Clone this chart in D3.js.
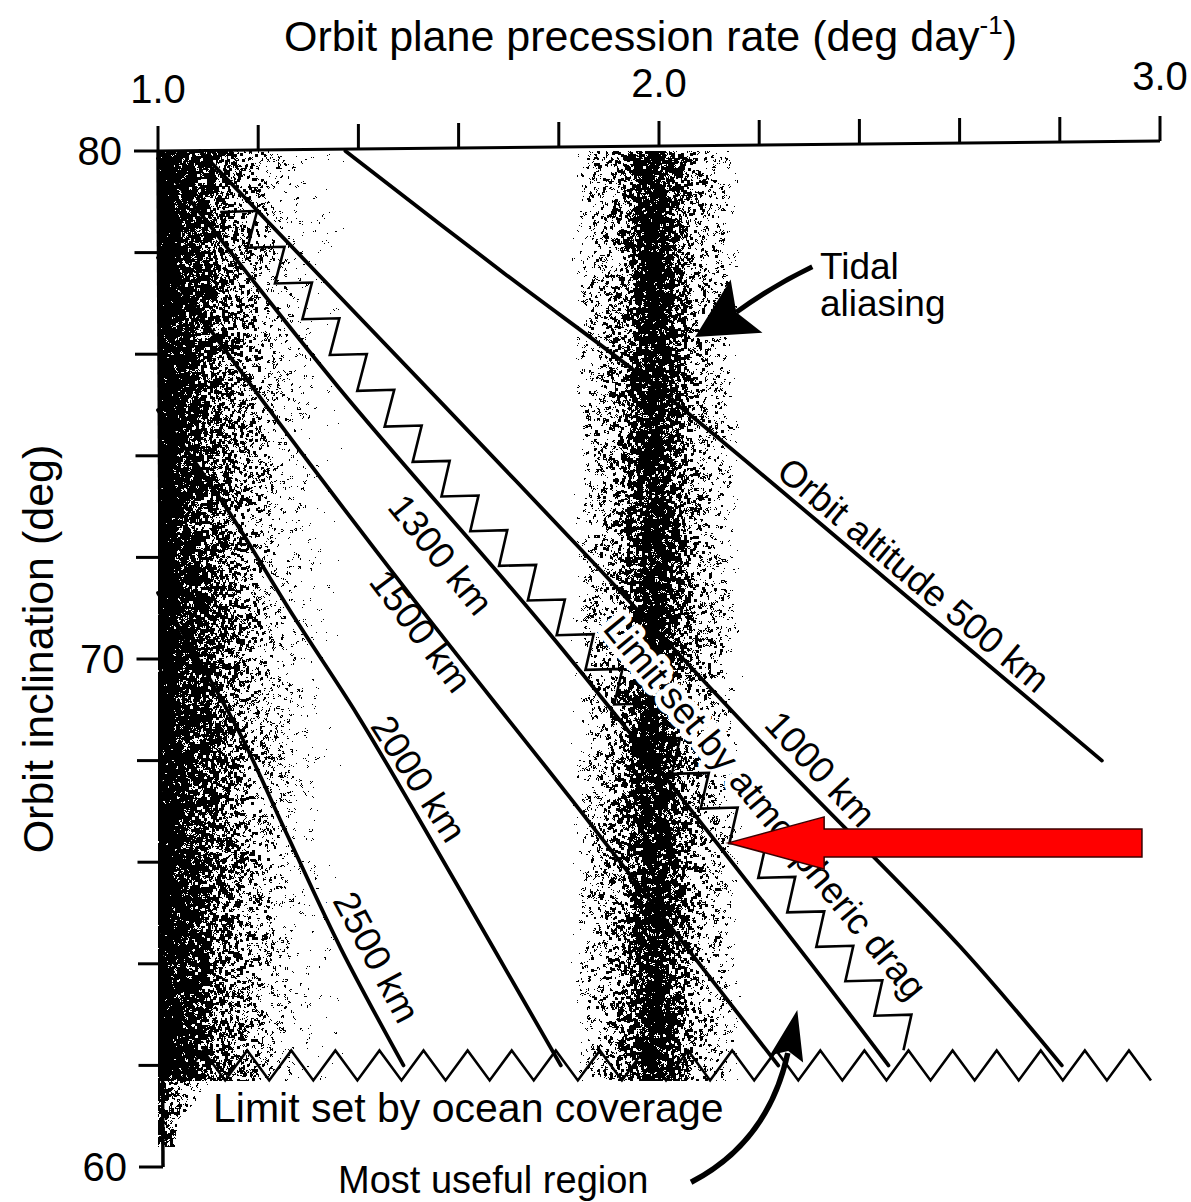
<!DOCTYPE html>
<html><head><meta charset="utf-8">
<script src="https://cdn.jsdelivr.net/npm/d3@7"></script>
<style>html,body{margin:0;padding:0;background:#fff;}svg{display:block;}</style>
</head><body>
<svg id="chart" width="1191" height="1202"></svg>
<script>
// ---------------- data ----------------
const rateTicks = [1.0, 1.2, 1.4, 1.6, 1.8, 2.0, 2.2, 2.4, 2.6, 2.8, 3.0];
const rateLabelValues = [1.0, 2.0, 3.0];
const rateLabelTexts = ["1.0", "2.0", "3.0"];
const inclinationTicks = [60, 62, 64, 66, 68, 70, 72, 74, 76, 78, 80];
const inclinationLabelValues = [60, 70, 80];

// [precession rate (deg/day), inclination (deg)]
const altitude500  = [[1.374, 80.0], [1.69, 77.6], [2.0, 75.3], [2.45, 71.6], [2.884, 68.0]];
const altitude1000 = [[1.084, 80.0], [1.56, 75.1], [1.84, 72.2], [2.22, 68.2], [2.60, 64.35], [2.804, 62.0]];
const altitude1300 = [[1.0, 79.85], [1.36, 75.35], [1.79, 70.4], [2.28, 64.3], [2.458, 62.0]];
const altitude1500 = [[1.0, 77.9], [1.2, 75.2], [1.5, 71.3], [1.824, 67.25], [2.238, 62.0]];
const altitude2000 = [[1.0, 74.9], [1.138, 72.95], [1.27, 70.85], [1.398, 68.9], [1.518, 66.9], [1.67, 64.3], [1.804, 62.0]];
const altitude2500 = [[1.0, 71.3], [1.05, 70.5], [1.16, 68.6], [1.255, 66.6], [1.365, 64.3], [1.49, 62.0]];
const altitudeNames = ["Orbit altitude 500 km", "1000 km", "1300 km", "1500 km", "2000 km", "2500 km"];

const dragLimit = [[1.124, 78.8], [1.484, 74.17], [2.21, 65.55], [2.488, 62.3]];
const oceanLimitInclination = 62.0;
const oceanLimitRates = [1.046, 2.982];

const nearSyncBand = [1.0, 1.37];          // stippled band at the left
const tidalBand = [1.82, 1.99, 2.17];       // edge, centre, edge of tidal aliasing band
const stippleFloor = 61.7;                  // lower inclination of the stippled bands

// ---------------- layout ----------------
const W = 1191, H = 1202;
const FONT = "'Liberation Sans', Arial, Helvetica, sans-serif";
const svg = d3.select("#chart");
const x = d3.scaleLinear().domain([1, 3]).range([158, 1160]);
const y = d3.scaleLinear().domain([60, 80]).range([1167, 151]);

// ---------------- stipple texture ----------------
(function () {
  const cv = document.createElement("canvas");
  cv.width = W; cv.height = H;
  const ctx = cv.getContext("2d");
  const img = ctx.createImageData(W, H);
  const data = img.data;
  function hash(a, b) {
    let h = (Math.imul(a, 374761393) + Math.imul(b, 668265263)) | 0;
    h = Math.imul(h ^ (h >>> 13), 1274126177);
    h ^= h >>> 16;
    return (h >>> 0) / 4294967296;
  }
  const xL = x(nearSyncBand[0]), xLe = x(nearSyncBand[1]);
  const xc = x(tidalBand[1]), hwL = xc - x(tidalBand[0]), hwR = x(tidalBand[2]) - xc;
  const yTop = y(80), yBot = y(stippleFloor);
  for (let py = 0; py < H; py++) {
    for (let px = 0; px < W; px++) {
      let d = 0;
      const u = px - xL;
      if (py >= yTop && py <= yBot) {
        if (u >= 0 && px <= xLe) {
          d += 0.86 * Math.exp(-Math.pow(u / 98, 2));
          if (u < 16) d += 0.08;
        }
        const v = px - xc;
        const hw = v < 0 ? hwL : hwR;
        if (Math.abs(v) < hw) {
          d += 0.62 * Math.exp(-Math.pow(v / 34, 2)) + 0.22 * Math.min(1, (hw - Math.abs(v)) / 22);
        }
      } else if (py > yBot && py < yBot + 66 && u >= 0) {
        const lim2 = Math.max(55 - (py - yBot) * 0.9, 24 - (py - yBot) * 0.12);
        if (u < lim2) d = 0.7 - u / 80;
      }
      if (d <= 0) continue;
      d = Math.min(d, 0.93);
      const cx0 = Math.floor(px / 3);
      const sy = Math.floor(hash(cx0, 9) * 3);
      const cy = Math.floor((py + sy) / 3);
      const sx = Math.floor(hash(cy, 5) * 3);
      const cx = Math.floor((px + sx) / 3);
      const n = 0.75 * hash(cx, cy) + 0.25 * hash(px + 9137, py + 311);
      if (n < d) {
        const k = (py * W + px) * 4;
        data[k] = 0; data[k + 1] = 0; data[k + 2] = 0; data[k + 3] = 255;
      }
    }
  }
  ctx.putImageData(img, 0, 0);
  svg.append("image").attr("x", 0).attr("y", 0).attr("width", W).attr("height", H)
    .attr("href", cv.toDataURL());
})();

// ---------------- labels along curves (white knock-out first) ----------------
const labelLayout = [
  { text: altitudeNames[0], at: [2.508, 71.65], angle: 40 },
  { text: altitudeNames[1], at: [2.322, 67.83], angle: 47 },
  { text: altitudeNames[2], at: [1.564, 72.05], angle: 51 },
  { text: altitudeNames[3], at: [1.524, 70.55], angle: 53 },
  { text: altitudeNames[4], at: [1.520, 67.64], angle: 57 },
  { text: altitudeNames[5], at: [1.436, 64.13], angle: 62 },
  { text: "Limit set by atmospheric drag", at: [2.212, 67.07], angle: 50.5 }
];
function placeLabels(g) {
  return g.selectAll("text").data(labelLayout).join("text")
    .attr("transform", d => `translate(${x(d.at[0])},${y(d.at[1])}) rotate(${d.angle})`)
    .attr("text-anchor", "middle").attr("dominant-baseline", "central")
    .attr("font-family", FONT).attr("font-size", 37).text(d => d.text);
}
placeLabels(svg.append("g")).attr("fill", "#fff").attr("stroke", "#fff").attr("stroke-width", 12)
  .attr("stroke-linejoin", "round");

// ---------------- altitude curves ----------------
const altitudeLines = [altitude500, altitude1000, altitude1300, altitude1500, altitude2000, altitude2500];
const lineGen = d3.line().x(d => x(d[0])).y(d => y(d[1])).curve(d3.curveCatmullRom.alpha(0.5));
svg.append("g").selectAll("path").data(altitudeLines).join("path")
  .attr("d", d => lineGen(d)).attr("fill", "none").attr("stroke", "#000")
  .attr("stroke-width", 3.8).attr("stroke-linecap", "round");

// ---------------- drag limit zigzag ----------------
(function () {
  const pts = dragLimit.map(d => [x(d[0]), y(d[1])]);
  const cum = [0];
  for (let i = 1; i < pts.length; i++) cum.push(cum[i - 1] + Math.hypot(pts[i][0] - pts[i - 1][0], pts[i][1] - pts[i - 1][1]));
  const total = cum[cum.length - 1];
  function at(s) {
    let i = 1;
    while (i < pts.length - 1 && cum[i] < s) i++;
    const t = (s - cum[i - 1]) / (cum[i] - cum[i - 1]);
    return [pts[i - 1][0] + t * (pts[i][0] - pts[i - 1][0]), pts[i - 1][1] + t * (pts[i][1] - pts[i - 1][1])];
  }
  const n = Math.round(total / 44.8), step = total / n;
  let p = "M" + at(0).join(",");
  for (let k = 0; k < n; k++) {
    const A = at(k * step), B = at((k + 1) * step);
    p += "L" + (A[0] + 37) + "," + (A[1] - 1) + "L" + B[0] + "," + B[1];
  }
  svg.append("path").attr("d", p).attr("fill", "none").attr("stroke", "#000")
    .attr("stroke-width", 2.6).attr("stroke-linejoin", "miter");
})();

// ---------------- ocean coverage zigzag ----------------
(function () {
  const oy = y(oceanLimitInclination), xs = x(oceanLimitRates[0]), xe = x(oceanLimitRates[1]);
  const m = Math.round((xe - xs) / 44), per = (xe - xs) / m;
  let p = "M" + xs + "," + (oy + 15);
  for (let k = 0; k < m; k++) {
    p += "L" + (xs + per * (k + 0.5)) + "," + (oy - 15) + "L" + (xs + per * (k + 1)) + "," + (oy + 15);
  }
  svg.append("path").attr("d", p).attr("fill", "none").attr("stroke", "#000").attr("stroke-width", 2.6);
})();

// ---------------- axes ----------------
const labelFor = (vals, texts) => d => {
  const i = vals.findIndex(v => Math.abs(v - d) < 1e-6);
  return i >= 0 ? (texts ? texts[i] : String(vals[i])) : "";
};
const gTop = svg.append("g").attr("transform", `translate(0,${y(80)})`)
  .call(d3.axisTop(x).tickValues(rateTicks).tickSize(25).tickPadding(23).tickSizeOuter(0)
    .tickFormat(labelFor(rateLabelValues, rateLabelTexts)));
gTop.select(".domain").remove();
gTop.selectAll(".tick").attr("transform", d => `translate(${x(d)},${-(d - 1) * 5})`);
gTop.selectAll(".tick line").attr("stroke", "#000").attr("stroke-width", 3);
gTop.selectAll(".tick text").attr("font-family", FONT).attr("font-size", 40).attr("fill", "#000")
  .attr("transform", d => `translate(0,${-(d - 1) * 1.5})`);
gTop.append("line").attr("x1", x(1)).attr("y1", 0).attr("x2", x(3)).attr("y2", -10)
  .attr("stroke", "#000").attr("stroke-width", 3);

const gLeft = svg.append("g").attr("transform", `translate(${x(1)},0)`)
  .call(d3.axisLeft(y).tickValues(inclinationTicks).tickSize(24).tickPadding(12).tickSizeOuter(0)
    .tickFormat(labelFor(inclinationLabelValues)));
gLeft.select(".domain").remove();
gLeft.selectAll(".tick").attr("transform", d => `translate(${(80 - d) * 0.25},${y(d)})`);
gLeft.selectAll(".tick line").attr("stroke", "#000").attr("stroke-width", 3);
gLeft.selectAll(".tick text").attr("font-family", FONT).attr("font-size", 40).attr("fill", "#000").attr("dy", "0.36em");
gLeft.append("line").attr("x1", 0).attr("y1", y(80)).attr("x2", 5).attr("y2", y(60))
  .attr("stroke", "#000").attr("stroke-width", 3.5);

// axis titles
const title = svg.append("text").attr("x", 284).attr("y", 51).attr("font-family", FONT)
  .attr("font-size", 43).attr("fill", "#000");
title.append("tspan").text("Orbit plane precession rate (deg day");
title.append("tspan").attr("font-size", 26).attr("dy", -17).text("-1");
title.append("tspan").attr("dy", 17).text(")");

svg.append("text").attr("transform", "translate(53,649) rotate(-90)").attr("text-anchor", "middle")
  .attr("font-family", FONT).attr("font-size", 43).attr("fill", "#000").text("Orbit inclination (deg)");

// label text on top
placeLabels(svg.append("g")).attr("fill", "#000");

svg.append("text").attr("x", 213).attr("y", 1122).attr("font-family", FONT).attr("font-size", 41)
  .attr("fill", "#000").text("Limit set by ocean coverage");
svg.append("text").attr("x", 338).attr("y", 1193).attr("font-family", FONT).attr("font-size", 38)
  .attr("fill", "#000").text("Most useful region");
svg.append("text").attr("x", 820).attr("y", 279).attr("font-family", FONT).attr("font-size", 37)
  .attr("fill", "#000").text("Tidal");
svg.append("text").attr("x", 820).attr("y", 316).attr("font-family", FONT).attr("font-size", 37)
  .attr("fill", "#000").text("aliasing");

// ---------------- arrows ----------------
// tidal aliasing arrow
(function () {
  const tail = [x(2.306), y(77.72)], tip = [x(2.072), y(76.34)];
  const dx = tip[0] - tail[0], dy = tip[1] - tail[1], L = Math.hypot(dx, dy);
  const ux = dx / L, uy = dy / L, px = -uy, py = ux;
  const len = 60, hw = 31, notch = 12;
  const bx = tip[0] - ux * len, by = tip[1] - uy * len;
  const nx = bx + ux * notch, ny = by + uy * notch;
  svg.append("path").attr("d", `M${tail[0]},${tail[1]}Q${(tail[0] + nx) / 2 + px * 4},${(tail[1] + ny) / 2 + py * 4} ${nx},${ny}`)
    .attr("fill", "none").attr("stroke", "#000").attr("stroke-width", 5);
  svg.append("path").attr("d", `M${tip[0]},${tip[1]}L${bx + px * hw},${by + py * hw}L${nx},${ny}L${bx - px * hw},${by - py * hw}Z`)
    .attr("fill", "#000");
})();
// most useful region arrow
(function () {
  const tail = [x(2.064), y(59.7)], ctrl = [x(2.218), y(60.49)], tip = [x(2.276), y(63.09)];
  const dx = tip[0] - ctrl[0], dy = tip[1] - ctrl[1], L = Math.hypot(dx, dy);
  const ux = dx / L, uy = dy / L, px = -uy, py = ux;
  const len = 50, hw = 17;
  const bx = tip[0] - ux * len, by = tip[1] - uy * len;
  svg.append("path").attr("d", `M${tail[0]},${tail[1]}Q${ctrl[0]},${ctrl[1]} ${bx + ux * 6},${by + uy * 6}`)
    .attr("fill", "none").attr("stroke", "#000").attr("stroke-width", 5.5);
  svg.append("path").attr("d", `M${tip[0]},${tip[1]}L${bx + px * hw},${by + py * hw}L${bx + ux * 8},${by + uy * 8}L${bx - px * hw},${by - py * hw}Z`)
    .attr("fill", "#000");
})();
// red highlight arrow
(function () {
  const tip = [x(2.138), y(66.38)], endX = x(2.964);
  const shaft = 14, head = 26, headLen = 96;
  const hx = tip[0] + headLen;
  const pts = [[tip[0], tip[1]], [hx, tip[1] - head], [hx, tip[1] - shaft], [endX, tip[1] - shaft],
               [endX, tip[1] + shaft], [hx, tip[1] + shaft], [hx, tip[1] + head]];
  svg.append("polygon").attr("points", pts.map(p => p.join(",")).join(" "))
    .attr("fill", "#ff0000").attr("stroke", "#3a0000").attr("stroke-width", 1.5);
})();
</script>
</body></html>
